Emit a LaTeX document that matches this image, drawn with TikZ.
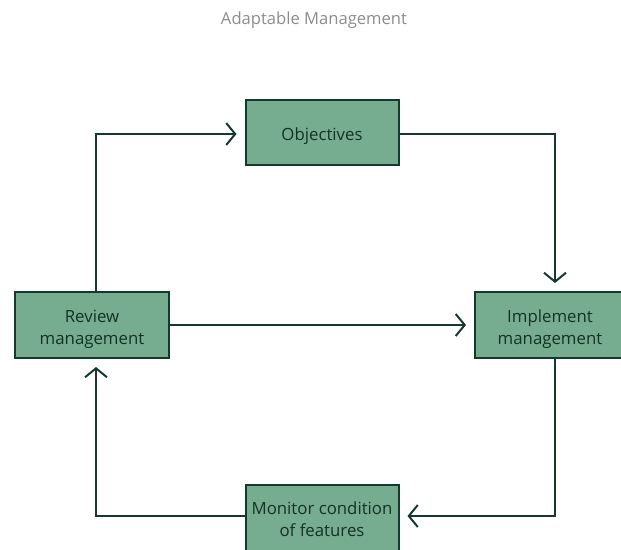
\documentclass[tikz,border=0pt]{standalone}
\usepackage{fontspec}
\setmainfont{Open Sans}
\usepackage{tikz}
\usetikzlibrary{arrows.meta,positioning}

\definecolor{boxfill}{HTML}{76AC8F}
\definecolor{boxline}{HTML}{15392A}
\definecolor{titlegray}{HTML}{8C8C8C}
\newcommand{\stagetext}[2][-4.5pt]{\raisebox{#1}[\height][\depth]{\begin{tabular}{@{}c@{}}#2\end{tabular}}}

\begin{document}
\begin{tikzpicture}[x=1pt,y=-1pt]
\tikzstyle{stage}=[rectangle,draw=boxline,line width=2pt,fill=boxfill,text=boxline!90!black,
  minimum width=153pt,minimum height=65pt,font=\fontsize{16.8}{22}\selectfont,inner sep=1pt]
\tikzstyle{flow}=[draw=boxline,line width=2pt,-{Straight Barb[length=9pt,width=22pt,line width=2pt]},shorten >=8pt]

\useasboundingbox (0,0) rectangle (621,549);

\node[text=titlegray,font=\fontsize{16.6}{20}\selectfont] (title) at (314,20) {Adaptable Management};

\node[stage] (obj) at (322,132) {\stagetext{Objectives}};
\node[stage,minimum width=154pt,minimum height=66pt] (review) at (92,325) {\stagetext{Review\\management}};
\node[stage,minimum width=150pt,minimum height=66pt] (impl) at (550,325) {\stagetext{Implement\\management}};
\node[stage,minimum height=66pt] (monitor) at (322,518) {\stagetext[-3pt]{Monitor condition\\of features}};

\draw[flow] ([xshift=4pt]review.north) |- ([yshift=-2pt]obj.west);
\draw[flow] ([yshift=-2pt]obj.east) -| ([xshift=5pt]impl.north);
\draw[flow] (review.east) -- (impl.west);
\draw[flow] ([xshift=5pt]impl.south) |- ([yshift=2pt]monitor.east);
\draw[flow] ([yshift=2pt]monitor.west) -| ([xshift=4pt]review.south);
\end{tikzpicture}
\end{document}
